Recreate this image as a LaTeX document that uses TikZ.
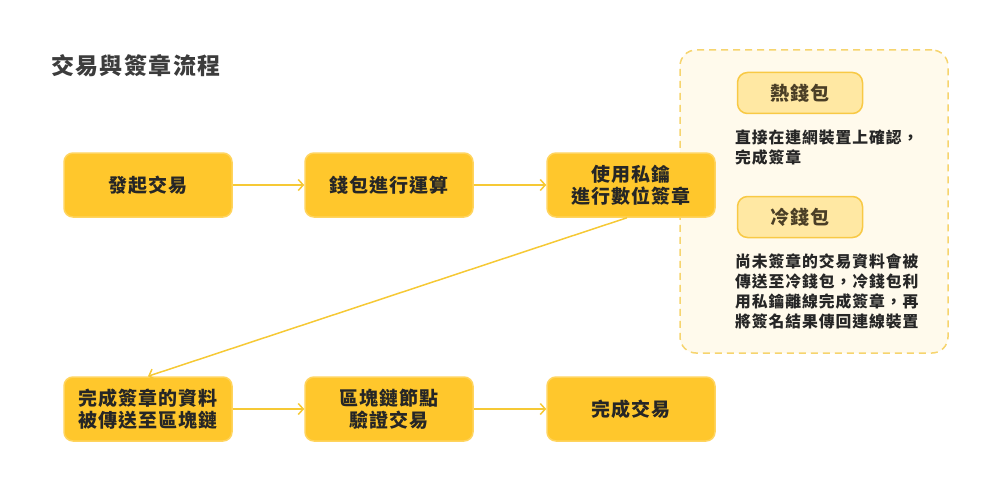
\documentclass[tikz,border=0pt]{standalone}
\usepackage{fontspec}
\setmainfont{Noto Sans CJK TC}[LetterSpace=6]
\usepackage{tikz}
\usetikzlibrary{calc, arrows.meta}

\definecolor{boxfill}{HTML}{FFC72C}
\definecolor{boxline}{HTML}{FFD45E}
\definecolor{arrowcol}{HTML}{F6C935}
\definecolor{panelfill}{HTML}{FFFAEC}
\definecolor{panelline}{HTML}{F6D46E}
\definecolor{pillfill}{HTML}{FFE8A3}
\definecolor{pillline}{HTML}{F8C945}
\definecolor{ink}{HTML}{262626}
\definecolor{titleink}{HTML}{3C3C3C}
\definecolor{pillink}{HTML}{4A3E26}

\begin{document}
\begin{tikzpicture}[x=1pt, y=-1pt, >={Straight Barb[length=5pt, width=11pt]}]

    \tikzstyle{stepbox}=[rounded corners=9pt, fill=boxfill, draw=boxline, line width=1.5pt, minimum width=168pt, minimum height=64pt, align=center, text=ink, font=\fontsize{19}{22}\selectfont\bfseries];
    \tikzstyle{pill}=[rounded corners=10pt, fill=pillfill, draw=pillline, line width=1.5pt, minimum width=125pt, minimum height=41pt, text=pillink, font=\fontsize{19}{22}\selectfont\bfseries];
    \tikzstyle{note}=[anchor=north west, align=left, inner sep=0pt, text=ink, font=\fontsize{15.8}{20}\selectfont\bfseries];
    \tikzstyle{flow}=[->, line width=1.5pt, draw=arrowcol];

    \useasboundingbox (0,0) rectangle (1000,500);

    \node (title) at (51,66) [anchor=west, inner sep=0pt, text=titleink, font=\fontsize{23}{26}\selectfont\bfseries] {交易與簽章流程};

    \node (panel) at (814,201.5) [rounded corners=16pt, fill=panelfill, draw=panelline, line width=1.5pt, dash pattern=on 7pt off 5pt, minimum width=268pt, minimum height=303pt] {};

    \node (0) at (148,185) [stepbox] {發起交易};
    \node (1) at ($(0)+(241,0)$) [stepbox] {錢包進行運算};
    \node (2) at ($(1)+(242,0)$) [stepbox] {使用私鑰\\進行數位簽章};
    \node (3) at ($(0)+(0,224)$) [stepbox] {完成簽章的資料\\被傳送至區塊鏈};
    \node (4) at ($(3)+(241,0)$) [stepbox] {區塊鏈節點\\驗證交易};
    \node (5) at ($(4)+(242,0)$) [stepbox] {完成交易};

    \node (hot) at (800,93) [pill] {熱錢包};
    \node (hotnote) at (735,130) [note] {直接在連網裝置上確認，\\完成簽章};
    \node (cold) at (800,217) [pill] {冷錢包};
    \node (coldnote) at (735,254) [note] {尚未簽章的交易資料會被\\傳送至冷錢包，冷錢包利\\用私鑰離線完成簽章，再\\將簽名結果傳回連線裝置};

    \draw (0) edge[flow] (1);
    \draw (1) edge[flow] (2);
    \draw ($(2.south)+(-4,0)$) edge[flow] (3.north);
    \draw (3) edge[flow] (4);
    \draw (4) edge[flow] (5);
\end{tikzpicture}
\end{document}
